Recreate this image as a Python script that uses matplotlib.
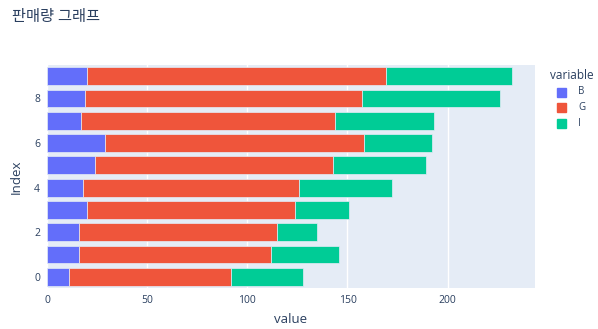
import numpy as np
import matplotlib.pyplot as plt
from matplotlib.patches import Rectangle

plt.rcParams["font.family"] = ["Open Sans", "Noto Sans CJK KR", "DejaVu Sans"]

# ---------------------------------------------------------------------------
# Data
# ---------------------------------------------------------------------------
index = np.arange(10)
b_vals = [11, 16, 16, 20, 18, 24, 29, 17, 19, 20]
g_vals = [81, 96, 99, 104, 108, 119, 129, 127, 138, 149]
i_vals = [36, 34, 20, 27, 46, 46, 34, 49, 69, 63]
series = [("B", b_vals, "#636EFA"), ("G", g_vals, "#EF553B"), ("I", i_vals, "#00CC96")]

TEXT = "#2a3f5f"
W, H = 598, 329

fig = plt.figure(figsize=(W / 100, H / 100), dpi=100)
ax = fig.add_axes([47 / W, 1 - 288 / H, (535 - 47) / W, (288 - 65) / H])
ax.set_facecolor("#E5ECF6")

left = np.zeros(len(index))
for name, vals, color in series:
    ax.barh(index, vals, left=left, height=0.8, color=color,
            edgecolor="#E5ECF6", linewidth=0.5, label=name, zorder=3)
    left += np.array(vals)

ax.set_xlim(0, 243.6)
ax.set_ylim(-0.5, 9.5)
ax.set_xticks([0, 50, 100, 150, 200])
ax.set_yticks([0, 2, 4, 6, 8])
ax.grid(axis="x", color="white", linewidth=1, zorder=0)
ax.tick_params(length=0, labelsize=7.5, labelcolor=TEXT, pad=5)
for s in ax.spines.values():
    s.set_visible(False)

ax.set_xlabel("value", fontsize=9.5, color=TEXT, labelpad=5)
ax.set_ylabel("Index", fontsize=9.5, color=TEXT, labelpad=8)

fig.text(12 / W, 1 - 17 / H, "판매량 그래프", fontsize=11, color=TEXT,
         ha="left", va="center")

# legend drawn like plotly's
fig.text(550 / W, 1 - 75 / H, "variable", fontsize=8.5, color=TEXT,
         ha="left", va="center")
for k, (name, vals, color) in enumerate(series):
    yc = 1 - (92 + k * 15.5) / H
    fig.patches.append(Rectangle((557 / W, yc - 4.5 / H), 9 / W, 9 / H,
                                 transform=fig.transFigure, color=color))
    fig.text(578 / W, yc, name, fontsize=7, color=TEXT, ha="left", va="center")

fig.savefig("out.png", dpi=100)
